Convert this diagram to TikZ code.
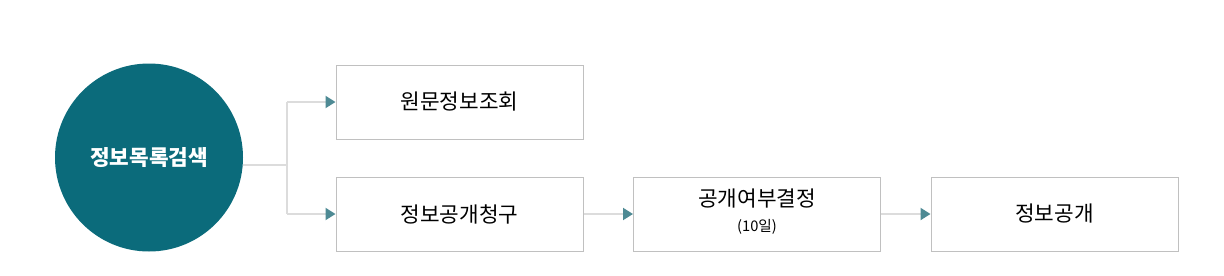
\documentclass[tikz,border=0pt]{standalone}
\usepackage{fontspec}
\setmainfont{Noto Sans CJK KR}
\usetikzlibrary{arrows.meta}
\definecolor{circ}{HTML}{0B6B7B}
\definecolor{tipc}{HTML}{4E8A94}
\definecolor{linec}{HTML}{DCDCDC}
\definecolor{boxc}{HTML}{C0C0C0}
\begin{document}
\begin{tikzpicture}[x=0.75pt,y=-0.75pt,
  stepbox/.style={draw=boxc,line width=0.75pt,minimum width=247*0.75pt,minimum height=74*0.75pt,inner sep=0pt,fill=white,font=\fontsize{16}{18}\selectfont},
  conn/.style={draw=linec,line width=1.5pt,-{Triangle[length=7.5pt,width=9pt,fill=tipc,color=tipc]}},
  plain/.style={draw=linec,line width=1.5pt}]
\useasboundingbox (0,0) rectangle (1224,275);
\node[circle,fill=circ,minimum size=188*0.75pt,inner sep=0pt,text=white,font=\fontsize{16}{18}\selectfont\bfseries] (c) at (149,157.5) {정보목록검색};
\node[stepbox] (b1) at (459.5,102) {원문정보조회};
\node[stepbox] (b2) at (459.5,214) {정보공개청구};
\node[stepbox] (b3) at (757,214) {};
\node[font=\fontsize{16}{18}\selectfont] (t3) at (757,199) {공개여부결정};
\node[font=\fontsize{11}{13}\selectfont] (s3) at (757,227) {(10일)};
\node[stepbox] (b4) at (1054.5,214) {정보공개};
\coordinate (j) at (287,165);
\coordinate (j1) at (287,102);
\coordinate (j2) at (287,214);
\draw[plain] (c.east |- j) -- (j);
\draw[plain] (j1) -- (j2);
\draw[conn] (j1) -- (b1.west);
\draw[conn] (j2) -- (b2.west);
\draw[conn] (b2.east) -- (b3.west);
\draw[conn] (b3.east) -- (b4.west);
\end{tikzpicture}
\end{document}
